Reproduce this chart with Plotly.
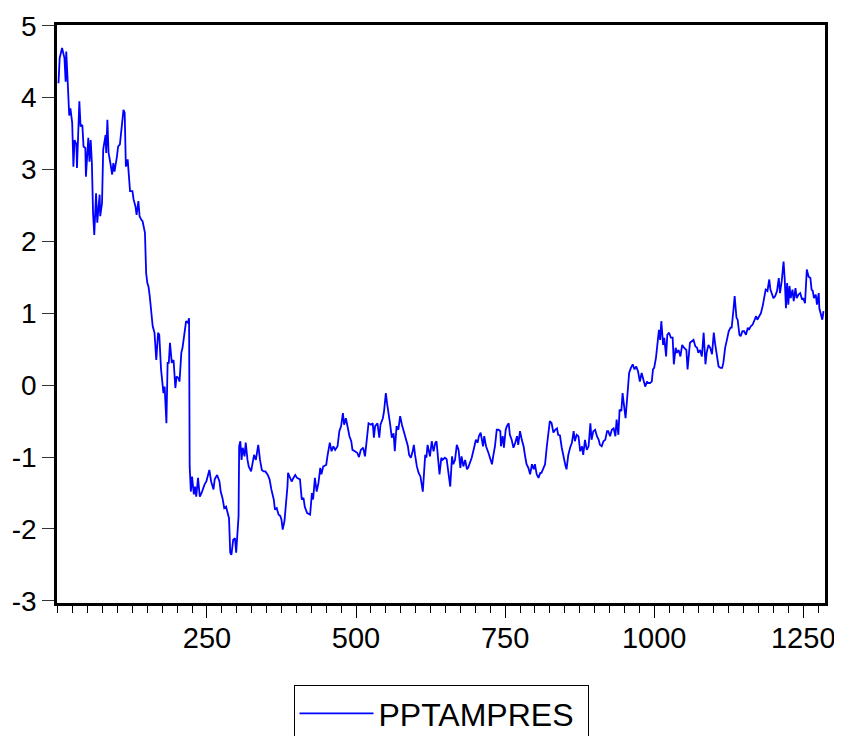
import plotly.graph_objects as go

obs = [1, 3, 7, 9, 11, 13, 14, 16, 18, 19, 21, 24, 26, 28, 31, 32, 36, 38, 41, 43, 46, 47, 51, 53, 55, 57, 59, 61, 64, 66, 70, 71, 74, 76, 80, 81, 83, 85, 88, 91, 93, 95, 99, 101, 104, 107, 110, 112, 114, 117, 119, 121, 125, 127, 130, 132, 135, 137, 140, 142, 146, 148, 150, 152, 154, 156, 159, 162, 165, 168, 170, 173, 175, 177, 179, 182, 184, 186, 188, 191, 194, 197, 199, 202, 204, 207, 209, 212, 215, 218, 220,
       221, 223, 225, 228, 230, 232, 235, 238, 241, 246, 249, 252, 254, 257, 261, 263, 267, 271, 273, 276, 279, 282, 285, 287, 289, 291, 294, 297, 299, 301, 303, 304, 306, 308, 310, 313, 315, 318, 320, 324, 327, 329, 332, 336, 339, 342, 345, 348, 352, 355, 358, 362, 364, 367, 370, 373, 375, 377, 380, 382, 385, 386, 389, 392, 395, 398, 401, 404,
       406, 409, 412, 414, 418, 423, 426, 428, 431, 434, 437, 440, 442, 445, 450, 452, 456, 459, 462, 465, 469, 472, 475, 478, 480, 483, 486, 489, 492, 494, 498, 502, 505, 508, 512, 515, 518, 521, 525, 528, 530, 532, 536, 539, 541, 545, 547, 550, 552, 555, 557, 560, 563, 565, 568, 571, 574, 577, 580, 584, 587, 589, 592, 595, 597, 599, 602, 605, 608, 612, 614, 616, 618, 620,
       624, 627, 630, 633, 635, 638, 640, 643, 645, 649, 652, 655, 658, 661, 663, 666, 669, 672, 675, 677, 680, 683, 686, 688, 691, 694, 698, 701, 704, 706, 709, 713, 715, 718, 722, 725, 728, 730, 733, 736, 739, 742, 743, 746, 748, 751, 753, 756, 758, 761, 764, 767, 770, 772, 775, 778, 781, 784, 786, 789, 792, 795, 798, 800, 803, 806, 809, 811, 814, 817, 820, 823, 825, 828, 831, 834, 837, 839,
       842, 845, 848, 851, 853, 856, 859,
       862, 865, 867, 870, 873, 876, 879, 881, 884, 887, 890, 893, 895, 898, 901, 904, 907, 909, 912, 915, 918, 921, 923, 926, 929, 932, 935, 937, 940, 942, 945, 947, 950, 952, 955, 958, 961, 964, 967, 970, 973, 976, 979, 982, 985, 988, 990, 993, 996, 998, 1000, 1003, 1006, 1008, 1010, 1012, 1015, 1017, 1020, 1022, 1025, 1028, 1031, 1033, 1036, 1038, 1041, 1044, 1047, 1050, 1054, 1056,
       1060, 1063, 1066, 1069, 1072, 1074, 1077, 1080, 1083, 1086, 1088, 1091, 1094, 1097, 1100, 1102, 1105, 1108, 1111, 1114, 1116, 1119, 1122, 1125, 1128, 1130, 1133, 1135, 1138, 1140, 1143, 1145, 1148, 1151, 1154, 1157, 1159, 1162, 1165, 1168, 1171, 1173, 1176, 1179, 1182, 1185, 1187, 1190, 1193, 1195, 1197, 1200, 1203, 1206, 1209, 1211, 1214, 1217, 1219, 1221, 1223, 1225, 1227, 1229, 1232, 1234, 1237, 1239, 1242, 1245, 1248, 1250, 1253, 1256, 1259, 1262, 1264, 1266, 1268, 1271, 1273, 1276, 1277, 1280, 1282, 1284]

pptampres = [4.20, 4.55, 4.69, 4.60, 4.55, 4.22, 4.64, 4.30, 3.95, 3.75, 3.85, 3.65, 3.04, 3.41, 3.35, 3.02, 3.95, 3.60, 3.62, 3.32, 3.30, 2.90, 3.44, 3.11, 3.41, 3.09, 2.39, 2.09, 2.67, 2.26, 2.65, 2.35, 2.53, 3.28, 3.48, 3.23, 3.69, 3.23, 3.09, 2.93, 3.09, 2.97, 3.18, 3.32, 3.35, 3.60, 3.83, 3.79, 3.04, 3.14, 2.97, 2.70, 2.70, 2.58, 2.49, 2.37, 2.56, 2.35, 2.30, 2.28, 2.12, 1.56, 1.42, 1.37, 1.24, 1.10, 0.82, 0.73, 0.35, 0.73, 0.70, 0.22, 0.03, -0.11, -0.02, -0.53, 0.31, 0.31, 0.59, 0.31, 0.35, -0.04, 0.12, 0.10, 0.05, 0.45, 0.52, 0.75, 0.89, 0.87, 0.93,
             -1.13, -1.48, -1.27, -1.52, -1.41, -1.55, -1.29, -1.55, -1.50, -1.38, -1.34, -1.22, -1.18, -1.34, -1.45, -1.31, -1.25, -1.34, -1.48, -1.57, -1.71, -1.69, -1.78, -1.85, -2.33, -2.36, -2.15, -2.13, -2.33, -2.01, -1.82, -0.85, -0.78, -1.04, -0.87, -0.99, -0.80, -1.04, -1.13, -1.20, -1.08, -0.97, -1.04, -0.83, -1.04, -1.18, -1.20, -1.20, -1.25, -1.31, -1.45, -1.59, -1.73, -1.71, -1.80, -1.82, -1.87, -2.01, -1.89, -1.73, -1.41, -1.22, -1.29, -1.34, -1.29, -1.25, -1.29, -1.31,
             -1.31, -1.59, -1.57, -1.69, -1.78, -1.80, -1.50, -1.59, -1.29, -1.48, -1.36, -1.15, -1.24, -1.13, -1.11, -0.99, -0.80, -0.92, -0.85, -0.90, -0.85, -0.64, -0.57, -0.39, -0.55, -0.46, -0.60, -0.71, -0.78, -0.90, -0.92, -0.94, -1.00, -0.90, -0.87, -0.99, -0.76, -0.53, -0.55, -0.53, -0.73, -0.57, -0.53, -0.73, -0.55, -0.46, -0.36, -0.11, -0.25, -0.39, -0.53, -0.73, -0.67, -0.92, -0.57, -0.62, -0.43, -0.55, -0.64, -0.78, -0.85, -0.97, -1.01, -0.92, -0.83, -0.97, -1.13, -1.22, -1.27, -1.48, -1.24, -0.97, -1.01, -0.83,
             -0.99, -0.78, -0.92, -0.80, -0.78, -1.08, -1.24, -1.01, -1.04, -1.01, -1.03, -1.22, -1.41, -0.99, -1.10, -1.04, -0.83, -0.90, -1.15, -0.99, -1.13, -1.04, -1.17, -1.15, -1.08, -1.01, -0.87, -0.76, -0.80, -0.71, -0.66, -0.85, -0.71, -0.85, -0.94, -1.01, -1.10, -0.99, -0.85, -0.62, -0.62, -0.64, -0.85, -0.71, -0.87, -0.62, -0.57, -0.53, -0.69, -0.76, -0.87, -0.80, -0.71, -0.83, -0.64, -0.76, -0.85, -1.01, -1.10, -1.15, -1.24, -1.10, -1.17, -1.10, -1.24, -1.29, -1.22, -1.22, -1.17, -1.10, -0.85, -0.66, -0.50, -0.53, -0.66, -0.62, -0.60, -0.69,
             -0.70, -0.87, -1.02, -1.11, -1.17, -0.97, -0.87,
             -0.80, -0.64, -0.78, -0.69, -0.71, -0.92, -0.85, -0.97, -0.76, -0.90, -0.85, -0.53, -0.76, -0.64, -0.62, -0.71, -0.76, -0.83, -0.85, -0.78, -0.76, -0.64, -0.64, -0.71, -0.62, -0.60, -0.71, -0.48, -0.69, -0.34, -0.36, -0.11, -0.29, -0.46, -0.15, 0.17, 0.24, 0.29, 0.22, 0.26, 0.19, 0.05, 0.17, 0.05, -0.02, 0.05, 0.03, 0.03, 0.05, 0.22, 0.24, 0.38, 0.68, 0.77, 0.63, 0.89, 0.56, 0.66, 0.40, 0.70, 0.73, 0.66, 0.66, 0.29, 0.52, 0.45, 0.49, 0.40, 0.56, 0.52, 0.49, 0.22,
             0.59, 0.61, 0.63, 0.54, 0.52, 0.45, 0.49, 0.40, 0.73, 0.29, 0.45, 0.56, 0.52, 0.43, 0.73, 0.59, 0.40, 0.26, 0.24, 0.24, 0.31, 0.52, 0.63, 0.75, 0.80, 0.80, 1.05, 1.24, 0.94, 0.91, 0.70, 0.68, 0.75, 0.75, 0.70, 0.80, 0.77, 0.82, 0.84, 0.91, 0.96, 0.91, 0.96, 1.00, 1.10, 1.24, 1.33, 1.31, 1.47, 1.33, 1.28, 1.21, 1.24, 1.31, 1.49, 1.28, 1.45, 1.72, 1.47, 1.07, 1.42, 1.12, 1.38, 1.21, 1.33, 1.17, 1.35, 1.21, 1.26, 1.28, 1.19, 1.21, 1.14, 1.61, 1.51, 1.49, 1.33, 1.31, 1.21, 1.26, 1.12, 1.28, 1.07, 0.98, 0.91, 1.03]

series_name = "PPTAMPRES"
x_ticks = [250, 500, 750, 1000, 1250]
y_ticks = [-3, -2, -1, 0, 1, 2, 3, 4, 5]

fig = go.Figure()
fig.add_trace(go.Scatter(x=obs, y=pptampres, mode="lines", name=series_name,
                         line=dict(color="#0000FF", width=1.8)))

FONT = "Liberation Sans, Arial, sans-serif"
# the page adds an 8px body margin, so the figure is 8px smaller than the window
fig.update_layout(
    width=834, height=728,
    margin=dict(l=49, r=17, t=17, b=133, autoexpand=False),
    paper_bgcolor="white", plot_bgcolor="white",
    font=dict(family=FONT, color="black"),
    showlegend=True,
    legend=dict(x=0.5, xanchor="center", y=-0.142, yanchor="top",
                bordercolor="black", borderwidth=1, bgcolor="white",
                font=dict(size=32, family=FONT), itemwidth=74,
                orientation="h", entrywidth=204),
)
fig.update_xaxes(range=[-1.5, 1286.5], showgrid=False, zeroline=False, automargin=False,
                 showline=True, linecolor="black", linewidth=2.5, mirror=True,
                 tickmode="array", tickvals=x_ticks, ticktext=[str(t) for t in x_ticks],
                 ticks="outside", ticklen=12, tickwidth=1, tickcolor="black",
                 ticklabelstandoff=-5,
                 tickfont=dict(size=29, family=FONT),
                 minor=dict(dtick=25, tick0=0, ticks="outside", ticklen=7, tickwidth=1, tickcolor="black", showgrid=False))
fig.update_yaxes(range=[-3.03, 5.01], showgrid=False, zeroline=False, automargin=False,
                 showline=True, linecolor="black", linewidth=2.5, mirror=True,
                 tickmode="array", tickvals=y_ticks, ticktext=[str(t) for t in y_ticks],
                 ticks="outside", ticklen=12, tickwidth=1, tickcolor="#333333",
                 tickfont=dict(size=28, family=FONT))

fig.write_html("out.html")
